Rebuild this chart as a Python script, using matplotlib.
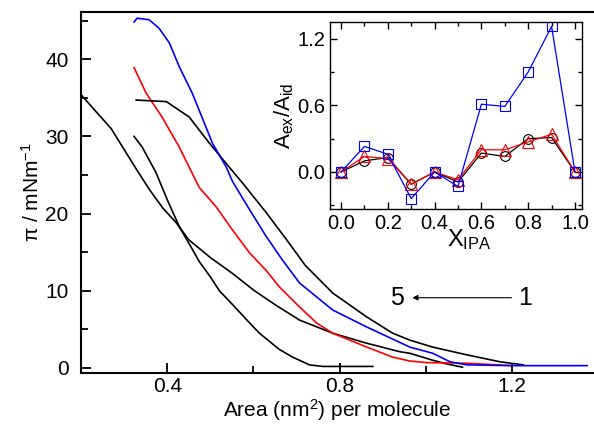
import numpy as np
import matplotlib
matplotlib.use("Agg")
from matplotlib import pyplot as plt

plt.rcParams["font.family"] = ["Liberation Sans", "DejaVu Sans"]
plt.rcParams["mathtext.fontset"] = "custom"
plt.rcParams["mathtext.rm"] = "Liberation Sans"
plt.rcParams["mathtext.it"] = "Liberation Sans:italic"

# isotherms: area (nm^2/molecule) vs surface pressure (mN/m)
blue_x = [0.323, 0.33, 0.358, 0.381, 0.405, 0.428, 0.458, 0.505, 0.537, 0.551, 0.591, 0.630,
          0.667, 0.707, 0.784, 0.863, 0.940, 0.963, 1.016, 1.056, 1.095, 1.20, 1.374]
blue_y = [44.8, 45.3, 45.1, 44.0, 42.1, 39.0, 35.6, 29.1, 26.0, 24.2, 20.5, 17.0,
          14.0, 11.0, 7.5, 5.3, 3.3, 2.7, 1.9, 0.8, 0.4, 0.3, 0.3]

red_x = [0.323, 0.351, 0.388, 0.428, 0.474, 0.513, 0.551, 0.591, 0.630, 0.660, 0.707,
         0.747, 0.784, 0.863, 0.923, 0.963, 1.00, 1.10, 1.20]
red_y = [38.9, 35.6, 32.5, 28.6, 23.4, 20.9, 17.9, 14.9, 12.6, 10.5, 7.9,
         5.8, 4.5, 2.7, 1.4, 0.9, 0.7, 0.6, 0.3]

# black curve starting at high pressure, flat top
blk1_x = [0.328, 0.398, 0.451, 0.498, 0.544, 0.574, 0.630, 0.677, 0.720, 0.784, 0.863,
          0.923, 0.963, 1.016, 1.095, 1.172, 1.226]
blk1_y = [34.7, 34.5, 32.5, 29.1, 26.0, 24.0, 20.1, 16.6, 13.3, 9.7, 6.6,
          4.5, 3.6, 2.7, 1.7, 0.8, 0.4]

# black curve from the left edge
blk2_x = [0.20, 0.23, 0.27, 0.30, 0.33, 0.36, 0.39, 0.421, 0.45, 0.474, 0.50, 0.55, 0.60,
          0.65, 0.707, 0.784, 0.863, 0.94, 0.963, 1.016, 1.05, 1.085]
blk2_y = [35.4, 33.5, 31.0, 28.3, 25.6, 23.0, 20.7, 18.8, 16.6, 15.5, 14.3, 12.3, 10.1,
          8.2, 6.2, 4.5, 3.2, 2.1, 1.9, 1.0, 0.5, 0.1]

# black curve collapsing at 30
blk3_x = [0.323, 0.342, 0.374, 0.40, 0.428, 0.46, 0.474, 0.50, 0.521, 0.55, 0.60, 0.614,
          0.66, 0.691, 0.73, 0.76, 0.877]
blk3_y = [30.0, 28.6, 25.3, 21.8, 18.3, 15.2, 13.8, 11.8, 10.0, 8.3, 5.3, 4.5,
          2.4, 1.4, 0.4, 0.2, 0.2]

# inset: excess area vs IPA mole fraction
x_ipa = [0.0, 0.1, 0.2, 0.3, 0.4, 0.5, 0.6, 0.7, 0.8, 0.9, 1.0]
sq_y = [0.0, 0.23, 0.16, -0.24, 0.0, -0.13, 0.61, 0.59, 0.90, 1.31, 0.0]
circ_y = [0.0, 0.10, 0.13, -0.11, 0.0, -0.09, 0.17, 0.14, 0.30, 0.31, 0.0]
tri_y = [0.0, 0.14, 0.12, -0.11, 0.0, -0.07, 0.20, 0.20, 0.27, 0.34, 0.0]

fig = plt.figure(figsize=(5.94, 4.30), dpi=100)
ax = fig.add_axes([0.1364, 0.1326, 0.8636, 0.8394])

lw = 1.2
ax.plot(blk2_x, blk2_y, color="black", lw=lw)
ax.plot(blk3_x, blk3_y, color="black", lw=lw)
ax.plot(red_x, red_y, color="red", lw=lw)
ax.plot(blk1_x, blk1_y, color="black", lw=lw)
ax.plot(blue_x, blue_y, color="blue", lw=lw)

ax.set_xlim(0.2, 1.39)
ax.set_ylim(-0.65, 46.1)
ax.set_xticks([0.4, 0.8, 1.2])
ax.set_xticks([0.6, 1.0], minor=True)
ax.set_yticks([0, 10, 20, 30, 40])
ax.set_yticks([5, 15, 25, 35, 45], minor=True)
ax.tick_params(direction="in", labelsize=15, width=1.3, length=7)
ax.tick_params(axis="x", pad=3)
ax.tick_params(axis="y", pad=9)
ax.tick_params(which="minor", direction="in", width=1.3, length=5)
ax.spines["right"].set_visible(False)
for s in ["left", "bottom", "top"]:
    ax.spines[s].set_linewidth(1.5)
ax.set_xlabel("Area (nm$^2$) per molecule", fontsize=15, labelpad=1)
ax.set_ylabel("π / mNm$^{-1}$", fontsize=15, labelpad=2)

ax.text(0.933, 9.1, "5", fontsize=18, ha="center", va="center")
ax.text(1.23, 9.1, "1", fontsize=18, ha="center", va="center")
ax.annotate("", xy=(0.962, 9.1), xytext=(1.205, 9.1),
            arrowprops=dict(arrowstyle="-|>", color="black", lw=0.8, mutation_scale=8))

# inset
ins = fig.add_axes([0.5556, 0.514, 0.4242, 0.4348])
ms = 7
ins.plot(x_ipa, circ_y, color="black", lw=0.9, marker="o", ms=ms, mfc="none", mew=0.8)
ins.plot(x_ipa, tri_y, color="red", lw=0.9, marker="^", ms=ms + 1, mfc="none", mew=0.8)
ins.plot(x_ipa, sq_y, color="blue", lw=0.9, marker="s", ms=ms, mfc="none", mew=0.8)
ins.set_xlim(-0.047, 1.03)
ins.set_ylim(-0.333, 1.35)
ins.set_xticks([0.0, 0.2, 0.4, 0.6, 0.8, 1.0])
ins.set_xticks([0.1, 0.3, 0.5, 0.7, 0.9], minor=True)
ins.set_yticks([0.0, 0.6, 1.2])
ins.set_yticks([-0.3, 0.3, 0.9], minor=True)
ins.tick_params(direction="in", labelsize=14.5, length=5, width=1, right=True, top=True)
ins.tick_params(which="minor", direction="in", length=3, width=1, right=True, top=True)
for s in ins.spines.values():
    s.set_linewidth(1.0)
ins.set_xlabel("X$_{\\mathrm{IPA}}$", fontsize=17)
ins.xaxis.set_label_coords(0.552, -0.095)
ins.set_ylabel("A$_{\\mathrm{ex}}$/A$_{\\mathrm{id}}$", fontsize=16, labelpad=1)

fig.savefig("out.png", dpi=100)
